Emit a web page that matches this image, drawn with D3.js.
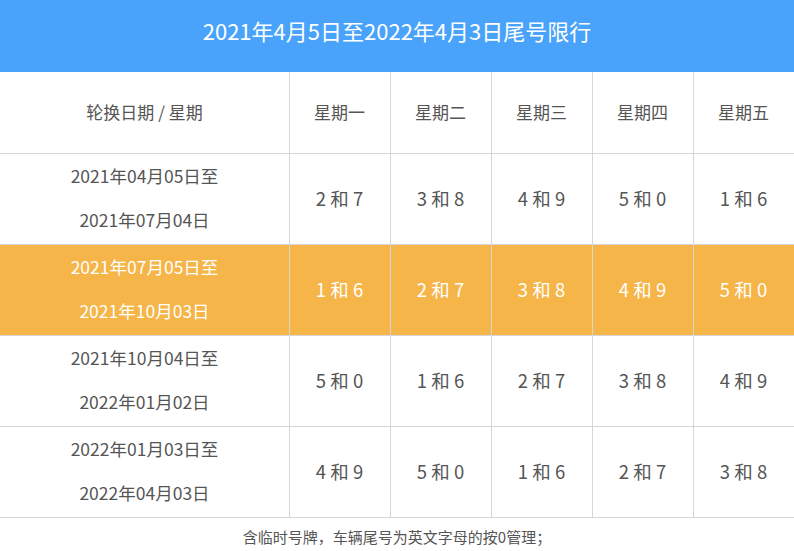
<!DOCTYPE html>
<html lang="zh">
<head>
<meta charset="UTF-8"/>
<script src="https://d3js.org/d3.v7.min.js"></script>
<style>
	body{margin:0;background:#fff;}
	text{font-family:"Noto Sans CJK SC","Noto Sans",sans-serif;}
</style>
</head>
<body>
<div id="chart"></div>
<script>
var title = "2021年4月5日至2022年4月3日尾号限行";
var corner = "轮换日期 / 星期";
var weekdays = ["星期一","星期二","星期三","星期四","星期五"];
var periods = [
	["2021年04月05日至","2021年07月04日"],
	["2021年07月05日至","2021年10月03日"],
	["2021年10月04日至","2022年01月02日"],
	["2022年01月03日至","2022年04月03日"]
];
var plates = [
	["2 和 7","3 和 8","4 和 9","5 和 0","1 和 6"],
	["1 和 6","2 和 7","3 和 8","4 和 9","5 和 0"],
	["5 和 0","1 和 6","2 和 7","3 和 8","4 和 9"],
	["4 和 9","5 和 0","1 和 6","2 和 7","3 和 8"]
];
var highlightRow = 1;
var note = "含临时号牌，车辆尾号为英文字母的按0管理；";

var w = 794, h = 551;
var titleH = 72, headTop = 72, headH = 81, bodyTop = 153, bodyBottom = 517;
var firstColW = 289;

var svg = d3.select("#chart").append("svg").attr("width", w).attr("height", h);

var xScale = d3.scaleBand().domain(weekdays).range([firstColW, w]);
var yScale = d3.scaleBand().domain(d3.range(periods.length)).range([bodyTop, bodyBottom]);

// title bar
svg.append("rect").attr("x",0).attr("y",0).attr("width",w).attr("height",titleH).attr("fill","#4aa3fa");
svg.append("text").attr("x",w/2).attr("y",titleH/2-2).attr("text-anchor","middle")
	.attr("dominant-baseline","middle").attr("fill","#fff").attr("font-size",22).text(title);

// row backgrounds
svg.selectAll(".rowbg").data(periods).enter().append("rect")
	.attr("x",0).attr("y",function(d,i){return yScale(i);})
	.attr("width",w).attr("height",yScale.bandwidth())
	.attr("fill",function(d,i){return i===highlightRow ? "#f5b548" : "#fff";});

// grid lines
var gridColor = "#d6d6d6";
var hLines = [bodyTop].concat(d3.range(periods.length).map(function(i){return yScale(i)+yScale.bandwidth();}));
svg.selectAll(".hl").data(hLines).enter().append("line")
	.attr("x1",0).attr("x2",w).attr("y1",function(d){return d+0.5;}).attr("y2",function(d){return d+0.5;})
	.attr("stroke",gridColor);
var vLines = weekdays.map(function(d){return xScale(d);});
svg.selectAll(".vl").data(vLines).enter().append("line")
	.attr("x1",function(d){return d+0.5;}).attr("x2",function(d){return d+0.5;})
	.attr("y1",headTop).attr("y2",bodyBottom).attr("stroke",gridColor);

var textColor = "#555";
// header
svg.append("text").attr("x",firstColW/2).attr("y",headTop+headH/2+2).attr("text-anchor","middle")
	.attr("dominant-baseline","middle").attr("fill",textColor).attr("font-size",17).text(corner);
svg.selectAll(".wd").data(weekdays).enter().append("text")
	.attr("x",function(d){return xScale(d)+xScale.bandwidth()/2;})
	.attr("y",headTop+headH/2+2).attr("text-anchor","middle").attr("dominant-baseline","middle")
	.attr("fill",textColor).attr("font-size",17).text(function(d){return d;});

// period cells
periods.forEach(function(p,i){
	var c = i===highlightRow ? "#fff" : textColor;
	p.forEach(function(line,j){
		svg.append("text").attr("x",firstColW/2)
			.attr("y",yScale(i)+yScale.bandwidth()/2+(j===0?-20:24))
			.attr("text-anchor","middle").attr("dominant-baseline","middle")
			.attr("fill",c).attr("font-size",17.5).text(line);
	});
	svg.selectAll(".p"+i).data(plates[i]).enter().append("text")
		.attr("x",function(d,k){return xScale(weekdays[k])+xScale.bandwidth()/2;})
		.attr("y",yScale(i)+yScale.bandwidth()/2+2)
		.attr("text-anchor","middle").attr("dominant-baseline","middle")
		.attr("fill",c).attr("font-size",18.5).text(function(d){return d;});
});

// note
svg.append("text").attr("x",w/2).attr("y",539).attr("text-anchor","middle")
	.attr("dominant-baseline","middle").attr("fill",textColor).attr("font-size",15).text(note);
</script>
</body>
</html>
